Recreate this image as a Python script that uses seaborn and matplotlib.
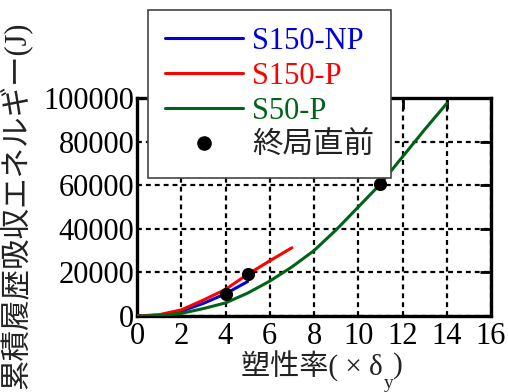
import matplotlib
matplotlib.use("Agg")
import matplotlib.pyplot as plt
from matplotlib.lines import Line2D
import seaborn as sns
import pandas as pd

# Cumulative hysteretic absorbed energy vs. ductility ratio
x_np = [0, 1, 2, 3, 4, 5]
e_np = [0, 400, 2200, 5800, 10200, 15800]

x_p = [0, 1, 2, 3, 4, 5, 6, 7]
e_p = [0, 600, 2800, 7300, 12200, 19100, 25300, 31300]

x_50 = [0, 1, 2, 3, 4, 5, 6, 7, 8, 9, 10, 11, 12, 13, 14]
e_50 = [0, 200, 1200, 3400, 6000, 10500, 16000, 22500, 30000, 39500,
        50000, 60500, 73000, 85500, 97500]

# points just before ultimate state
x_ult = [4, 5, 11]
e_ult = [10200, 19100, 60500]

series_names = ["S150-NP", "S150-P", "S50-P"]
series_colors = ["#0000dd", "#ff0000", "#006318"]
ult_label = "終局直前"

sns.set_style("white")
plt.rcParams["font.family"] = ["Liberation Serif", "Noto Sans CJK JP", "DejaVu Sans"]

fig = plt.figure(figsize=(5.08, 3.92), dpi=100)
ax = fig.add_axes([137 / 508, 1 - 316 / 392, (491 - 137) / 508, (316 - 98) / 392])

frames = [
    pd.DataFrame({"x": x_np, "e": e_np}),
    pd.DataFrame({"x": x_p, "e": e_p}),
    pd.DataFrame({"x": x_50, "e": e_50}),
]
for df, col in zip(frames, series_colors):
    sns.lineplot(data=df, x="x", y="e", ax=ax, color=col, lw=2.2, zorder=3,
                 legend=False)

sns.scatterplot(x=x_ult, y=e_ult, ax=ax, color="black", s=90, edgecolor="black",
                linewidth=0, zorder=4, legend=False)

ax.set_xlim(0, 16)
ax.set_ylim(0, 100000)
ax.set_xticks(range(0, 17, 2))
ax.set_yticks(range(0, 100001, 20000))
ax.grid(True, color="black", linestyle=(0, (2.2, 1.8)), lw=1.6)
ax.set_axisbelow(True)
for sp in ax.spines.values():
    sp.set_linewidth(2.4)
    sp.set_color("black")
ax.tick_params(direction="in", length=8, width=2, top=True, right=True,
               labelsize=22, pad=4, colors="black")
ax.tick_params(axis="y", pad=2)
ax.set_xlabel("")
ax.set_ylabel("")

# y-axis title
fig.text(15 / 508, 1 - 205 / 392, "累積履歴吸収エネルギー(J)", rotation=90,
         ha="center", va="center", fontsize=22, color="#222222")

# x-axis title with subscript y
xl_y = 1 - 366 / 392
t_main = fig.text(241 / 508, xl_y, "塑性率( × δ", ha="left", va="center",
                  fontsize=21, color="#222222")
fig.canvas.draw()
rend = fig.canvas.get_renderer()
bb = t_main.get_window_extent(rend).transformed(fig.transFigure.inverted())
t_sub = fig.text(bb.x1 + 1 / 508, 1 - 384 / 392, "y", ha="left", va="center",
                 fontsize=14, color="#222222")
bb2 = t_sub.get_window_extent(rend).transformed(fig.transFigure.inverted())
fig.text(bb2.x1, xl_y, ")", ha="left", va="center", fontsize=21, color="#222222")

# legend
handles = [Line2D([], [], color=c, lw=2.2) for c in series_colors]
handles.append(Line2D([], [], color="black", marker="o", linestyle="none",
                      markersize=9.5))
leg = ax.legend(handles=handles, labels=series_names + [ult_label],
                loc="upper left",
                bbox_to_anchor=(148 / 508, 1 - 166 / 392, 243 / 508, 156 / 392),
                bbox_transform=fig.transFigure, mode="expand", borderaxespad=0,
                fontsize=22, frameon=True, fancybox=False, handlelength=2.55,
                handletextpad=0.3, labelspacing=0.2, borderpad=0.55)
leg.get_frame().set_edgecolor("#444444")
leg.get_frame().set_linewidth(1.2)
leg.get_frame().set_alpha(1)
leg.set_zorder(10)
for txt, col in zip(leg.get_texts(), series_colors + ["#222222"]):
    txt.set_color(col)

fig.savefig("out.png", dpi=100)
